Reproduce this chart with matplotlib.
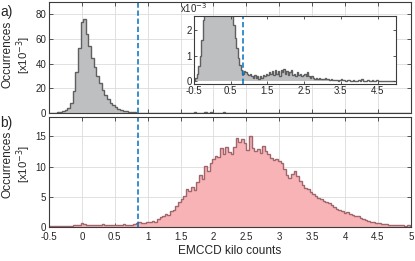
import matplotlib
matplotlib.use("Agg")
import matplotlib.pyplot as plt
import numpy as np

plt.rcParams['font.family'] = ['Liberation Sans', 'DejaVu Sans']

# histogram bins (kilo counts), width 0.04 starting at -0.5
bin_start = -0.5
bin_width = 0.04

# panel a) occurrences [x10^-3]
occ_a = [0.05, 0.15, 0.3, 0.6, 1.0, 1.6, 2.4, 4, 8, 18,
         33, 53, 74, 76, 64, 54, 45, 37, 30, 24,
         19, 15, 11.5, 8.5, 6.5, 4.5, 3.0, 2.2, 1.7, 1.3,
         0.9, 0.65, 0.45, 0.3, 0.4, 0.35, 0.3, 0.25, 0.3, 0.2,
         0.15, 0.25, 0.15, 0.2, 0.1, 0.2, 0.15, 0.25, 0.2, 0.3,
         0.25, 0.35, 0.3, 0.4, 0.25, 0.45, 0.3, 0.4, 0.2, 0.45,
         0.35, 0.5, 0.3, 0.4, 0.25, 0.35, 0.45, 0.25, 0.3, 0.2,
         0.35, 0.25, 0.3, 0.2, 0.25, 0.3, 0.2, 0.35, 0.2, 0.15,
         0.2, 0.15, 0.1, 0.15, 0.1, 0.12, 0.1, 0.08, 0.1, 0.12,
         0.08, 0.1, 0.06, 0.08, 0.05, 0.06, 0.04, 0.06, 0.03, 0.05,
         0.08, 0.04, 0.05, 0.03, 0.04, 0.06, 0.03, 0.02, 0.05, 0.02,
         0.03, 0.0, 0.04, 0.0, 0.08, 0.0, 0.03, 0.0, 0.04, 0.0,
         0.0, 0.05, 0.0, 0.0, 0.04, 0.0, 0.0, 0.0, 0.0, 0.0,
         0.0, 0.0, 0.0, 0.0, 0.0, 0.0, 0.0]

# panel b) occurrences [x10^-3]
occ_b = [0.1, 0.1, 0.1, 0.1, 0.1, 0.1, 0.1, 0.15, 0.2, 0.3,
         0.3, 0.4, 0.6, 0.5, 0.4, 0.35, 0.3, 0.35, 0.3, 0.4,
         0.55, 0.35, 0.3, 0.35, 0.3, 0.4, 0.3, 0.35, 0.45, 0.3,
         0.35, 0.4, 0.45, 0.6, 0.8, 0.65, 0.6, 0.8, 0.85, 1.0,
         0.9, 1.4, 1.6, 1.9, 2.1, 2.0, 2.6, 2.9, 3.4, 4.2,
         4.6, 5.2, 6.3, 5.9, 6.7, 6.2, 7.4, 8.6, 7.9, 10.1,
         9.2, 10.6, 11.3, 11.8, 11.5, 13.1, 12.0, 13.3, 12.4, 12.0,
         13.3, 14.7, 14.0, 14.5, 13.9, 12.8, 15.0, 13.1, 12.5, 12.9,
         12.3, 13.4, 12.6, 12.0, 11.4, 11.1, 11.2, 10.9, 10.6, 9.6,
         8.6, 8.1, 8.8, 9.2, 8.4, 7.6, 7.0, 6.5, 6.3, 5.8,
         5.5, 5.1, 4.8, 4.6, 4.3, 4.1, 3.9, 3.7, 3.3, 3.0,
         2.8, 2.6, 2.3, 2.5, 2.1, 2.0, 1.9, 1.8, 1.5, 1.3,
         1.2, 1.0, 0.9, 0.8, 0.7, 0.65, 0.5, 0.55, 0.45, 0.4,
         0.35, 0.4, 0.3, 0.35, 0.3, 0.25, 0.3]

threshold = 0.85
xticks = np.arange(-0.5, 5.01, 0.5)
xticklabels = ['-0.5', '0', '0.5', '1', '1.5', '2', '2.5', '3', '3.5', '4', '4.5', '5']
inset_xticks = [-0.5, 0.5, 1.5, 2.5, 3.5, 4.5]

edges = bin_start + bin_width * np.arange(len(occ_a) + 1)

gray_fill = '#bebfc1'
gray_edge = '#5f5f5f'
pink_fill = '#f7b3b5'
pink_edge = '#a0666c'
blue = '#0072BD'
spine_col = '#3c3c3c'
text_col = '#262626'
tick_fs = 7
label_fs = 8.6
dash = (0, (3.5, 1.8))


def style_axes(ax):
    for s in ax.spines.values():
        s.set_color(spine_col)
        s.set_linewidth(0.8)
    ax.tick_params(direction='in', length=3, width=0.6, colors=spine_col,
                   labelcolor=text_col, labelsize=tick_fs,
                   top=True, right=True, pad=2)
    ax.tick_params(axis='x', pad=3.5)
    ax.grid(True, color='#dcdcdc', linewidth=0.6)
    ax.set_axisbelow(True)


def side_label(y):
    # two-line y label, drawn as two rotated texts
    fig.text(0.017, y, 'Occurrences', rotation=90, fontsize=label_fs,
             color=text_col, ha='center', va='center')
    fig.text(0.058, y, '[x10$^{-3}$]', rotation=90, fontsize=label_fs - 0.4,
             color=text_col, ha='center', va='center')


fig = plt.figure(figsize=(4.15, 2.61), dpi=100)
ax_a = fig.add_axes([0.118, 0.567, 0.872, 0.425])
ax_b = fig.add_axes([0.118, 0.130, 0.872, 0.422])

# panel a
ax_a.stairs(occ_a, edges, fill=True, color=gray_fill)
ax_a.stairs(occ_a, edges, color=gray_edge, linewidth=1.0)
ax_a.axvline(threshold, color=blue, linestyle=dash, linewidth=1.1)
ax_a.set_xlim(-0.5, 5)
ax_a.set_ylim(0, 90)
ax_a.set_xticks(xticks)
ax_a.set_xticklabels([])
ax_a.set_yticks([0, 20, 40, 60, 80])
style_axes(ax_a)
side_label(0.79)

# inset
ax_in = fig.add_axes([0.467, 0.678, 0.487, 0.261])
ax_in.stairs(occ_a, edges, fill=True, color=gray_fill)
ax_in.stairs(occ_a, edges, color=gray_edge, linewidth=1.0)
ax_in.axvline(threshold, color=blue, linestyle=dash, linewidth=1.1)
ax_in.set_xlim(-0.5, 5)
ax_in.set_ylim(-0.1, 2.55)
ax_in.set_xticks(inset_xticks)
ax_in.set_xticklabels(['-0.5', '0.5', '1.5', '2.5', '3.5', '4.5'])
ax_in.set_yticks([0, 1, 2])
for s in ax_in.spines.values():
    s.set_color(spine_col)
    s.set_linewidth(0.8)
ax_in.tick_params(direction='in', length=2.5, width=0.6, colors=spine_col,
                  labelcolor=text_col, labelsize=tick_fs,
                  top=True, right=True, pad=1.5)
ax_in.text(0.0, 1.02, 'x10$^{-3}$', transform=ax_in.transAxes, fontsize=tick_fs,
           color=text_col, ha='center', va='bottom')

# panel b
ax_b.stairs(occ_b, edges, fill=True, color=pink_fill)
ax_b.stairs(occ_b, edges, color=pink_edge, linewidth=1.0)
ax_b.axvline(threshold, color=blue, linestyle=dash, linewidth=1.1)
ax_b.set_xlim(-0.5, 5)
ax_b.set_ylim(0, 18.2)
ax_b.set_xticks(xticks)
ax_b.set_xticklabels(xticklabels)
ax_b.set_yticks([0, 5, 10, 15])
style_axes(ax_b)
side_label(0.37)
ax_b.set_xlabel('EMCCD kilo counts', fontsize=label_fs, color=text_col, labelpad=2.5)

fig.text(0.0, 0.955, 'a)', fontsize=10, color=text_col, ha='left', va='center')
fig.text(0.0, 0.53, 'b)', fontsize=10, color=text_col, ha='left', va='center')

fig.savefig('out.png', dpi=100)
